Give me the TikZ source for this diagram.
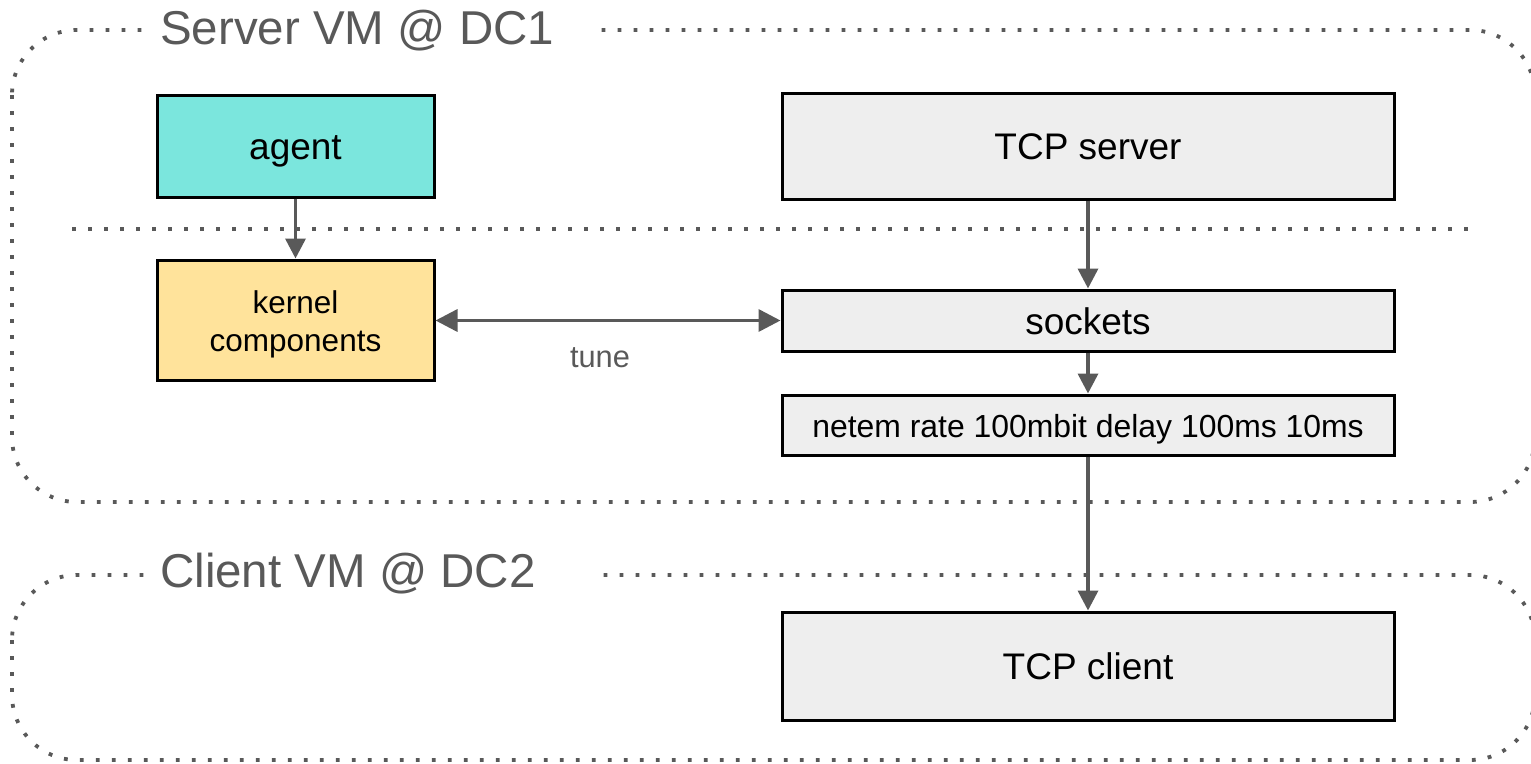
\documentclass[tikz,border=0pt]{standalone}
\usepackage{fontspec}
\setmainfont{Liberation Sans}
\usetikzlibrary{arrows.meta}
\definecolor{lgray}{HTML}{595959}
\definecolor{teal}{HTML}{7BE6DD}
\definecolor{sand}{HTML}{FFE39B}
\definecolor{boxgray}{HTML}{EEEEEE}
\begin{document}
\begin{tikzpicture}[x=1pt,y=-1pt,
  frame/.style={draw=lgray,line width=3.8pt,dash pattern=on 3.8pt off 12.2pt,rounded corners=65pt},
  sep/.style={draw=lgray,line width=3.8pt,dash pattern=on 3.8pt off 12.2pt},
  title/.style={text=lgray,font=\fontsize{47.5}{55}\selectfont,inner sep=0pt,anchor=west},
  box/.style={draw=black,line width=3pt,inner sep=0pt},
  big/.style={font=\fontsize{37}{44}\selectfont,text height=31pt,text depth=4pt},
  small/.style={font=\fontsize{31.5}{38}\selectfont,align=center},
  conn/.style={draw=lgray,line width=3.5pt,-{Triangle[length=20pt,width=20pt]}},
  conn2/.style={draw=lgray,line width=3.5pt,{Triangle[length=22pt,width=22pt]}-{Triangle[length=22pt,width=22pt]}}]
\useasboundingbox (0,0) rectangle (1531,763);
% frames
\draw[frame] (12,30) rectangle (1535,502);
\draw[frame] (12,575) rectangle (1535,760);
\draw[sep] (72,229) -- (1470,229);
\fill[white] (146,5) rectangle (600,55);
\fill[white] (146,550) rectangle (592,600);
\node[title] (t1) at (160,31) {Server VM @ DC1};
\node[title] (t2) at (160,574) {Client VM @ DC2};
% boxes
\node[box,fill=teal,minimum width=277pt,minimum height=102pt,big] (agent) at (295.5,146) {agent};
\node[box,fill=boxgray,minimum width=612pt,minimum height=106pt,big] (srv) at (1088,146) {TCP server};
\node[box,fill=sand,minimum width=277pt,minimum height=120pt,
  label={[small,yshift=-4pt,name=kerntext]center:kernel\\components}] (kern) at (295.5,320) {};
\node[box,fill=boxgray,minimum width=612pt,minimum height=61pt,big] (sock) at (1088,320.5) {sockets};
\node[box,fill=boxgray,minimum width=612pt,minimum height=60pt,font=\fontsize{31.9}{38}\selectfont,text height=27pt,text depth=3pt] (netem) at (1088,425) {netem rate 100mbit delay 100ms 10ms};
\node[box,fill=boxgray,minimum width=612pt,minimum height=108pt,big] (cli) at (1088,666) {TCP client};
% connectors
\draw[conn] (agent) -- (kern);
\draw[conn] (srv) -- (sock);
\draw[conn] (sock) -- (netem);
\draw[conn] (netem) -- (cli);
\draw[conn2] (kern.east |- sock.west) -- node[below=22pt,xshift=-8pt,text=lgray,font=\fontsize{30.8}{36}\selectfont] (tune) {tune} (sock.west);
\end{tikzpicture}
\end{document}
